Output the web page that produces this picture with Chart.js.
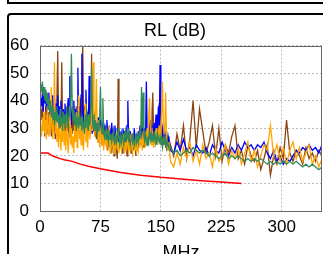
<!DOCTYPE html>
<html>
<head>
<meta charset="utf-8">
<script src="https://cdn.jsdelivr.net/npm/chart.js@4/dist/chart.umd.min.js"></script>
<style>
  body { margin: 0; background: #fff; overflow: hidden; }
  .topbox { position: absolute; left: 7px; top: -10px; width: 400px; height: 14px; box-sizing: border-box; border: 2px solid #000; }
  .panel { position: absolute; left: 7px; top: 13px; width: 400px; height: 300px; box-sizing: border-box; border: 2px solid #000; border-radius: 4px; }
  .wrap { position: absolute; left: 0; top: 0; width: 323px; height: 254px; }
</style>
</head>
<body>
<div class="topbox"></div>
<div class="panel"></div>
<div class="wrap"><canvas id="myChart"></canvas></div>
<script>
// frequencies (MHz) shared by the four measured pairs
const freqs = [
  1, 2, 3, 4, 5, 6, 7, 8, 9, 10,
  11, 12, 13, 14, 15, 16, 17, 18, 19, 20,
  21, 22, 23, 24, 25, 26, 27, 28, 29, 30,
  31, 32, 33, 34, 35, 36, 37, 38, 39, 40,
  41, 42, 43, 44, 45, 46, 47, 48, 49, 50,
  51, 52, 53, 54, 55, 56, 57, 58, 59, 60,
  61, 62, 63, 64, 65, 66, 67, 68, 69, 70,
  71, 72, 73, 74, 75, 76, 77, 78, 79, 80,
  81, 82, 83, 84, 85, 86, 87, 88, 89, 90,
  91, 92, 93, 94, 95, 96, 97, 98, 99, 100,
  101, 102, 103, 104, 105, 106, 107, 108, 109, 110,
  111, 112, 113, 114, 115, 116, 117, 118, 119, 120,
  121, 122, 123, 124, 125, 126, 127, 128, 129, 130,
  131, 132, 133, 134, 135, 136, 137, 138, 139, 140,
  141, 142, 143, 144, 145, 146, 147, 148, 149, 150,
  151, 152, 153, 154, 155, 156, 157, 158, 159, 160,
  162, 166, 170, 174, 178, 182, 186, 190, 194, 198,
  202, 206, 210, 214, 218, 222, 226, 230, 234, 238,
  242, 246, 250, 254, 258, 262, 266, 270, 274, 278,
  282, 286, 290, 294, 298, 302, 306, 310, 314, 318,
  322, 326, 330, 334, 338, 342, 346, 350
];

const blueRL = [
  41, 38, 43, 36, 42, 39, 44, 35, 41, 37,
  43, 36, 40, 34, 42, 38, 35, 41, 33, 39,
  36, 42, 34, 38, 32, 40, 35, 31, 37, 33,
  39, 34, 30, 36, 41, 33, 49, 35, 31, 38,
  34, 40, 32, 37, 30, 36, 52, 33, 38, 31,
  42, 57, 35, 30, 38, 33, 44, 31, 36, 29,
  49, 34, 30, 37, 28, 33, 31, 35, 29, 32,
  28, 34, 30, 27, 33, 29, 31, 26, 32, 28,
  30, 27, 33, 28, 25, 31, 29, 26, 32, 27,
  29, 25, 31, 28, 26, 30, 27, 24, 29, 26,
  28, 25, 30, 27, 24, 29, 26, 31, 40, 27,
  25, 29, 26, 23, 28, 25, 30, 26, 24, 27,
  25, 29, 26, 31, 27, 24, 33, 28, 26, 30,
  27, 47, 29, 25, 31, 27, 33, 28, 26, 30,
  28, 32, 27, 35, 29, 31, 38, 30, 53, 34,
  30, 27, 32, 28, 25, 29, 26, 24, 27, 25,
  22, 21, 25, 22, 26, 22, 23, 20, 24, 22,
  21, 23, 20, 24, 22, 21, 25, 22, 20, 23,
  21, 24, 22, 25, 23, 24, 22, 24, 23, 25,
  21, 19, 22, 18, 20, 17, 19, 18, 20, 22,
  21, 23, 22, 24, 22, 23, 21, 24
];

const greenRL = [
  46, 43, 47, 42, 45, 40, 44, 39, 43, 37,
  41, 36, 40, 34, 38, 33, 37, 31, 36, 33,
  38, 32, 35, 30, 37, 31, 34, 29, 36, 32,
  35, 30, 38, 33, 31, 36, 34, 40, 57, 38,
  33, 37, 31, 35, 29, 34, 32, 30, 36, 31,
  34, 29, 33, 31, 28, 35, 30, 37, 32, 29,
  35, 31, 38, 52, 33, 30, 35, 29, 33, 30,
  28, 32, 29, 34, 45, 31, 28, 41, 30, 27,
  29, 26, 30, 27, 25, 29, 26, 28, 25, 27,
  29, 26, 24, 28, 25, 27, 30, 26, 24, 27,
  25, 28, 26, 24, 27, 29, 25, 28, 26, 30,
  27, 24, 26, 28, 25, 27, 24, 26, 28, 25,
  27, 25, 29, 26, 28, 45, 30, 43, 27, 25,
  28, 26, 24, 27, 25, 29, 26, 28, 25, 27,
  26, 29, 25, 27, 24, 28, 26, 25, 27, 24,
  26, 23, 25, 27, 24, 26, 23, 25, 24, 23,
  23, 21, 22, 20, 21, 22, 21, 23, 22, 21,
  22, 21, 20, 21, 20, 19, 20, 21, 19, 20,
  19, 20, 19, 18, 19, 18, 19, 18, 19, 18,
  17, 18, 17, 18, 17, 18, 17, 18, 17, 18,
  17, 16, 17, 16, 17, 16, 15, 16
];

const orangeRL = [
  31, 27, 34, 29, 36, 28, 33, 26, 38, 30,
  27, 35, 29, 45, 31, 26, 33, 54, 28, 32,
  25, 30, 23, 34, 27, 22, 31, 25, 36, 24,
  29, 22, 33, 26, 21, 28, 38, 24, 30, 23,
  27, 21, 32, 25, 36, 23, 29, 42, 26, 31,
  24, 34, 27, 22, 30, 39, 25, 33, 23, 28,
  35, 26, 31, 38, 29, 54, 32, 27, 35, 48,
  30, 25, 33, 23, 28, 31, 24, 29, 22, 27,
  25, 29, 22, 27, 24, 31, 21, 26, 23, 28,
  24, 21, 27, 23, 29, 22, 25, 21, 27, 24,
  22, 26, 23, 28, 21, 25, 22, 27, 24, 21,
  25, 22, 28, 23, 21, 26, 24, 22, 27, 21,
  24, 22, 26, 23, 28, 25, 22, 29, 24, 27,
  23, 26, 30, 25, 35, 41, 28, 24, 30, 26,
  23, 27, 25, 30, 24, 28, 26, 31, 27, 25,
  36, 47, 33, 28, 30, 43, 27, 24, 22, 25,
  18, 16, 21, 17, 23, 19, 25, 18, 22, 17,
  24, 19, 21, 16, 23, 18, 20, 24, 17, 22,
  19, 23, 17, 21, 25, 18, 22, 16, 20, 24,
  22, 31, 20, 24, 18, 23, 17, 22, 25, 19,
  23, 18, 21, 24, 17, 20, 16, 19
];

const brownRL = [
  37, 33, 39, 29, 35, 27, 38, 31, 34, 28,
  36, 30, 40, 27, 33, 29, 37, 31, 26, 34,
  41, 58, 33, 28, 36, 30, 54, 32, 27, 35,
  30, 26, 34, 29, 37, 27, 32, 25, 31, 28,
  35, 29, 33, 26, 38, 31, 28, 34, 30, 41,
  33, 48, 60, 36, 31, 38, 29, 35, 27, 33,
  30, 37, 28, 57, 34, 29, 36, 27, 32, 26,
  31, 25, 29, 34, 27, 30, 24, 28, 26, 31,
  27, 24, 29, 22, 26, 30, 23, 27, 21, 25,
  28, 20, 24, 27, 22, 19, 48, 26, 23, 28,
  24, 21, 27, 23, 29, 22, 26, 20, 25, 28,
  23, 26, 21, 25, 28, 22, 27, 24, 20, 26,
  23, 27, 25, 30, 24, 28, 33, 26, 23, 29,
  25, 28, 24, 30, 27, 32, 26, 29, 35, 43,
  28, 31, 26, 34, 29, 27, 33, 39, 28, 25,
  30, 27, 24, 28, 26, 23, 29, 25, 22, 26,
  24, 20, 28, 22, 31, 19, 26, 40, 23, 37,
  29, 21, 25, 31, 20, 30, 18, 24, 21, 27,
  31, 19, 22, 17, 24, 20, 18, 22, 15, 19,
  24, 13, 20, 17, 23, 19, 33, 21, 18, 22,
  20, 17, 23, 19, 21, 18, 22, 20
];

// limit line
const limitFreqs = [1, 4, 7, 10, 15, 20, 25, 30, 40, 50, 60, 75, 100, 125, 150, 175, 200, 225, 250];
const limitRL = [21, 21, 21, 21, 20.1, 19.5, 19, 18.6, 18, 17, 16.2, 15.3, 14, 13, 12.2, 11.6, 11, 10.5, 10];

const xTicks = [0, 75, 150, 225, 300];

const toPoints = (xs, ys) => xs.map((x, i) => ({ x: x, y: ys[i] }));

// grey box round the plot, and title centred a bit left of the plot like the original
const frame = {
  id: 'frame',
  afterLayout: (chart) => {
    if (chart.titleBlock) chart.titleBlock.left = chart.chartArea.left - 12;
  },
  afterDraw: (chart) => {
    const a = chart.chartArea;
    const ctx = chart.ctx;
    ctx.save();
    ctx.strokeStyle = '#666';
    ctx.lineWidth = 1;
    ctx.strokeRect(Math.round(a.left) + 0.5, Math.round(a.top) + 0.5,
      Math.round(a.right - a.left) - 1, Math.round(a.bottom - a.top));
    ctx.restore();
  }
};

const font = 'Liberation Sans, Arial, sans-serif';
const line = (data, color, w) => ({
  data: data, borderColor: color, backgroundColor: color,
  borderWidth: w, pointRadius: 0, fill: false, tension: 0
});

new Chart(document.getElementById('myChart'), {
  type: 'line',
  data: {
    datasets: [
      line(toPoints(freqs, greenRL), '#2e8b57', 1.3),
      line(toPoints(freqs, orangeRL), '#ffa500', 1.3),
      line(toPoints(freqs, blueRL), '#0000ff', 1.3),
      line(toPoints(freqs, brownRL), '#8b4513', 1.3),
      line(toPoints(limitFreqs, limitRL), '#ff0000', 1.5)
    ]
  },
  options: {
    responsive: true,
    maintainAspectRatio: false,
    animation: false,
    layout: { padding: { left: 0, right: 1, top: 0, bottom: 0 } },
    plugins: {
      legend: { display: false },
      tooltip: { enabled: false },
      title: {
        display: true, text: 'RL (dB)', color: '#000',
        font: { family: font, size: 18, weight: 'normal' },
        padding: { top: 20, bottom: 4 }
      }
    },
    scales: {
      x: {
        type: 'linear', min: 0, max: 350,
        afterBuildTicks: (s) => { s.ticks = xTicks.map((v) => ({ value: v })); },
        afterFit: (s) => { s.height = 43; },
        ticks: { color: '#000', font: { family: font, size: 17 }, padding: 6, maxRotation: 0 },
        grid: { color: '#bbb', drawTicks: false },
        border: { display: false, dash: [2, 2] },
        title: { display: true, text: 'MHz', color: '#000', font: { family: font, size: 18 }, padding: { top: 0, bottom: -10 } }
      },
      y: {
        min: 0, max: 60,
        afterFit: (s) => { s.width = 40; },
        ticks: { stepSize: 10, color: '#000', font: { family: font, size: 17 }, padding: 11 },
        grid: { color: '#bbb', drawTicks: false },
        border: { display: false, dash: [2, 2] }
      }
    }
  },
  plugins: [frame]
});
</script>
</body>
</html>
